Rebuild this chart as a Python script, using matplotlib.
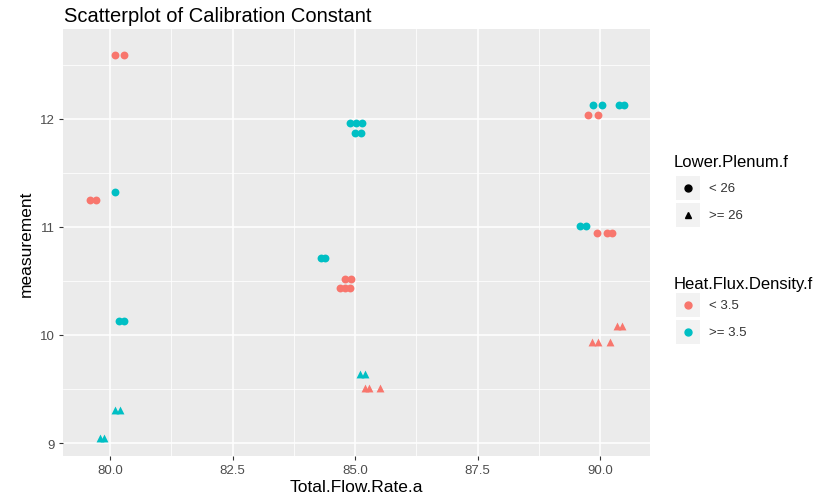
import matplotlib.pyplot as plt
from matplotlib.lines import Line2D
from matplotlib.patches import Rectangle

plt.rcParams['font.family'] = ['Liberation Sans', 'DejaVu Sans']

# Data
flow = [80.10, 80.29, 79.60, 79.71, 84.80, 84.92, 84.70, 84.80, 84.90,
        89.76, 89.96, 89.94, 90.15, 90.25,
        80.10, 80.18, 80.28, 84.90, 85.02, 85.14, 85.00, 85.12, 84.30, 84.38,
        89.86, 90.04, 90.38, 90.48, 89.60, 89.72,
        80.10, 80.20, 79.80, 79.88, 85.10, 85.20,
        85.20, 85.28, 85.50, 90.35, 90.45, 89.84, 89.96, 90.20]
measurement = [12.59, 12.59, 11.25, 11.25, 10.52, 10.52, 10.43, 10.43, 10.43,
               12.03, 12.03, 10.94, 10.94, 10.94,
               11.32, 10.13, 10.13, 11.96, 11.96, 11.96, 11.87, 11.87, 10.71, 10.71,
               12.13, 12.13, 12.13, 12.13, 11.01, 11.01,
               9.31, 9.31, 9.05, 9.05, 9.64, 9.64,
               9.51, 9.51, 9.51, 10.08, 10.08, 9.93, 9.93, 9.93]
plenum = ['< 26'] * 30 + ['>= 26'] * 14
flux = (['< 3.5'] * 14 + ['>= 3.5'] * 16 + ['>= 3.5'] * 6 + ['< 3.5'] * 8)

plenum_levels = ['< 26', '>= 26']
flux_levels = ['< 3.5', '>= 3.5']
shapes = {'< 26': 'o', '>= 26': '^'}
colors = {'< 3.5': '#F8766D', '>= 3.5': '#00BFC4'}

W, H = 836, 502
fig = plt.figure(figsize=(W / 100, H / 100), dpi=100)
ax = fig.add_axes([63 / W, (H - 457) / H, (650 - 63) / W, (457 - 30) / H])
ax.set_facecolor('#EBEBEB')

for p in plenum_levels:
    for f in flux_levels:
        xs = [x for x, pp, ff in zip(flow, plenum, flux) if pp == p and ff == f]
        ys = [y for y, pp, ff in zip(measurement, plenum, flux) if pp == p and ff == f]
        ax.scatter(xs, ys, marker=shapes[p], color=colors[f], s=32,
                   linewidths=0, zorder=3)

ax.set_xlim(79.04, 91.02)
ax.set_ylim(8.88, 12.83)
ax.set_xticks([80.0, 82.5, 85.0, 87.5, 90.0])
ax.set_xticklabels(['80.0', '82.5', '85.0', '87.5', '90.0'])
ax.set_yticks([9, 10, 11, 12])
ax.set_xticks([81.25, 83.75, 86.25, 88.75], minor=True)
ax.set_yticks([9.5, 10.5, 11.5, 12.5], minor=True)
ax.grid(which='major', color='white', linewidth=1.1)
ax.grid(which='minor', color='white', linewidth=0.55)
ax.set_axisbelow(True)
for s in ax.spines.values():
    s.set_visible(False)
ax.tick_params(which='major', length=3, color='#333333', labelsize=9.5,
               labelcolor='#4D4D4D', pad=3)
ax.tick_params(which='minor', length=0)

ax.set_xlabel('Total.Flow.Rate.a', fontsize=12.5, labelpad=2)
ax.set_ylabel('measurement', fontsize=12.5, labelpad=4)
fig.text(64 / W, 1 - 17 / H, 'Scatterplot of Calibration Constant',
         fontsize=14.5, va='center', ha='left')

# Legends drawn by hand, ggplot style with grey key boxes
def px(x, y):
    return x / W, 1 - y / H

def legend_block(title, ty, labels, markers, mcolors, ky0):
    fig.text(*px(674, ty), title, fontsize=12, va='center', ha='left')
    for i, (lab, m, c) in enumerate(zip(labels, markers, mcolors)):
        cy = ky0 + i * 27
        x0, y0 = px(676, cy + 12)
        fig.add_artist(Rectangle((x0, y0), 24 / W, 24 / H, transform=fig.transFigure,
                                 facecolor='#F2F2F2', edgecolor='none'))
        fig.add_artist(Line2D([688 / W], [1 - cy / H], marker=m, color=c,
                              markersize=5, linestyle='none',
                              transform=fig.transFigure))
        fig.text(*px(709, cy), lab, fontsize=9.5, va='center', ha='left',
                 color='#333333')

legend_block('Lower.Plenum.f', 163, plenum_levels, ['o', '^'],
             ['black', 'black'], 189)
legend_block('Heat.Flux.Density.f', 285, flux_levels, ['o', 'o'],
             [colors[f] for f in flux_levels], 306)

plt.savefig('out.png', dpi=100)
